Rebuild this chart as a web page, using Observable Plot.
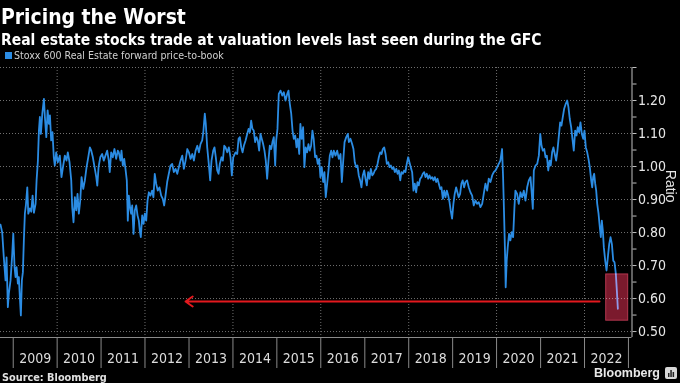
<!DOCTYPE html>
<html><head><meta charset="utf-8">
<script src="https://cdn.jsdelivr.net/npm/d3@7"></script>
<script src="https://cdn.jsdelivr.net/npm/@observablehq/plot@0.6"></script>
<style>
html,body{margin:0;padding:0;background:#000;}
#wrap{width:680px;height:383px;position:relative;overflow:hidden;background:#000;}
.t{position:absolute;white-space:nowrap;line-height:1;left:0;top:0;}
#title{font:bold 21px "DejaVu Sans Condensed","DejaVu Sans",sans-serif;color:#fff;}
#sub{font:bold 15px "DejaVu Sans Condensed","DejaVu Sans",sans-serif;color:#fff;}
#leg{font:11px "Liberation Sans Narrow","DejaVu Sans Condensed",sans-serif;color:#d0d0d0;}
#sw{position:absolute;left:5px;top:52px;width:7px;height:7px;background:#2b8ce3;}
#src{font:bold 11px "DejaVu Sans Condensed","DejaVu Sans",sans-serif;color:#e0e0e0;}
#brand{font:bold 13px "Liberation Sans","DejaVu Sans",sans-serif;color:#e8e8e8;}
#chart{position:absolute;left:0;top:62px;}
#chart svg{display:block;}
#icon{position:absolute;left:665px;top:367px;}
</style></head>
<body>
<div id="wrap">
  <div class="t" id="title"></div>
  <div class="t" id="sub"></div>
  <div id="sw"></div>
  <div class="t" id="leg"></div>
  <div id="chart"></div>
  <div class="t" id="src"></div>
  <div class="t" id="brand"></div>
  <svg id="icon" width="12" height="12" viewBox="0 0 12 12"><rect x="0" y="0" width="12" height="12" rx="2" fill="#d8d8d8"/><rect x="3" y="6" width="1.5" height="4" fill="#222"/><rect x="5.3" y="3" width="1.5" height="7" fill="#222"/><rect x="7.6" y="5" width="1.5" height="5" fill="#222"/></svg>
</div>
<script>
// ---- text ----
const titleText = "Pricing the Worst";
const subtitleText = "Real estate stocks trade at valuation levels last seen during the GFC";
const seriesName = "Stoxx 600 Real Estate forward price-to-book";
const sourceText = "Source: Bloomberg";
const brandText = "Bloomberg";
const yAxisLabel = "Ratio";

// ---- axes ----
const yearLabels = ["2009","2010","2011","2012","2013","2014","2015","2016","2017","2018","2019","2020","2021","2022"];
const yearBoundaries = [2009,2010,2011,2012,2013,2014,2015,2016,2017,2018,2019,2020,2021,2022,2023];
const gridYears = [2010,2012,2014,2016,2018,2020,2022];
const yGridLevels = [0.5,0.6,0.7,0.8,0.9,1.0,1.1,1.2,1.3];
const yMinorTicks = [0.5,0.55,0.6,0.65,0.7,0.75,0.8,0.85,0.9,0.95,1.0,1.05,1.1,1.15,1.2,1.25,1.3];
const yTickValues = [0.5,0.6,0.7,0.8,0.9,1.0,1.1,1.2];
const yTickLabels = ["0.50","0.60","0.70","0.80","0.90","1.00","1.10","1.20"];
const xDomain = [2008.711, 2023.081];
const yDomain = [0.482, 1.30];

// ---- annotations ----
const boxFrom = 2022.494, boxTo = 2022.994, boxLow = 0.533, boxHigh = 0.673;
const arrowFrom = 2022.341, arrowTo = 2012.921, arrowLevel = 0.591;

// ---- series: dates (decimal years) and forward price-to-book ----
const dates = [
2008.711,2008.750,2008.786,2008.825,2008.848,2008.878,2008.900,2008.939,2008.978,2009.001,
2009.030,2009.053,2009.076,2009.106,2009.128,2009.151,2009.174,2009.197,2009.220,2009.242,
2009.265,2009.288,2009.320,2009.343,2009.379,2009.411,2009.441,2009.471,2009.509,2009.532,
2009.562,2009.585,2009.607,2009.630,2009.662,2009.699,2009.721,2009.753,2009.783,2009.813,
2009.836,
2009.864,2009.894,2009.924,2009.947,2009.978,2010.015,2010.061,2010.099,2010.138,2010.175,
2010.213,2010.243,2010.282,2010.321,2010.343,2010.373,2010.403,2010.435,2010.464,2010.494,
2010.526,2010.556,2010.594,2010.631,2010.670,2010.708,2010.745,2010.777,2010.813,2010.852,
2010.891,2010.914,2010.943,2010.982,
2011.025,2011.061,2011.100,2011.139,2011.175,2011.198,2011.230,2011.267,2011.305,2011.344,
2011.381,2011.403,2011.442,2011.465,2011.495,2011.527,2011.556,2011.586,2011.609,2011.632,
2011.664,2011.686,2011.709,2011.739,2011.768,2011.800,2011.830,2011.860,2011.882,2011.905,
2011.937,2011.967,2011.996,2012.028,2012.058,2012.088,
2012.124,2012.162,2012.192,2012.222,2012.254,2012.290,2012.329,2012.368,2012.404,2012.436,
2012.466,2012.504,2012.541,2012.580,2012.618,2012.655,2012.694,2012.733,2012.769,2012.808,
2012.847,2012.883,2012.922,2012.961,2012.997,2013.036,2013.075,2013.111,2013.150,2013.189,
2013.225,
2013.261,2013.300,2013.329,2013.359,2013.382,2013.414,2013.450,2013.482,2013.512,2013.551,
2013.580,2013.610,2013.642,2013.672,2013.701,2013.740,2013.770,2013.802,2013.831,2013.870,
2013.907,2013.945,2013.975,2014.007,2014.059,2014.098,2014.128,2014.158,2014.189,2014.219,
2014.249,2014.288,2014.326,2014.356,2014.386,
2014.415,2014.444,2014.474,2014.506,2014.535,2014.565,2014.597,2014.627,2014.656,2014.688,
2014.718,2014.748,2014.779,2014.809,2014.839,2014.871,2014.900,2014.930,2014.962,2014.985,
2015.014,2015.044,2015.083,2015.122,2015.158,2015.197,2015.236,2015.265,2015.295,2015.327,
2015.357,2015.386,2015.418,2015.448,2015.477,2015.509,
2015.536,2015.566,2015.598,2015.627,2015.657,2015.689,2015.719,2015.748,2015.780,2015.810,
2015.839,2015.871,2015.901,2015.931,2015.963,2015.992,2016.022,2016.054,2016.083,2016.113,
2016.145,2016.175,2016.205,2016.236,2016.266,2016.296,2016.334,2016.373,2016.410,2016.448,
2016.478,2016.510,2016.540,2016.578,2016.615,2016.638,
2016.674,2016.712,2016.742,2016.772,2016.804,2016.833,2016.863,2016.895,2016.924,2016.954,
2016.986,2017.016,2017.045,2017.077,2017.107,2017.137,2017.169,2017.198,2017.228,2017.260,
2017.290,2017.319,2017.351,2017.381,2017.410,2017.442,2017.472,2017.502,2017.534,2017.563,
2017.593,2017.625,2017.654,2017.684,2017.716,2017.746,2017.775,2017.807,
2017.834,2017.864,2017.895,2017.925,2017.955,2017.987,2018.016,2018.046,2018.078,2018.108,
2018.137,2018.169,2018.199,2018.229,2018.260,2018.290,2018.320,2018.352,2018.381,2018.411,
2018.443,2018.473,2018.502,2018.534,2018.564,2018.594,2018.625,2018.655,2018.685,2018.717,
2018.746,2018.776,2018.808,2018.837,2018.867,2018.899,2018.929,
2018.955,2018.987,2019.017,2019.047,2019.079,2019.108,2019.138,2019.170,2019.200,2019.229,
2019.261,2019.291,2019.329,2019.366,2019.405,2019.444,2019.480,2019.519,2019.558,2019.594,
2019.633,2019.672,2019.708,2019.747,2019.786,2019.822,2019.861,2019.900,2019.936,2019.975,
2020.014,2020.050,
2020.086,2020.125,2020.148,2020.170,2020.193,2020.207,2020.230,2020.253,2020.284,2020.314,
2020.344,2020.376,2020.406,2020.428,2020.467,2020.503,2020.542,2020.581,2020.618,2020.656,
2020.695,2020.732,2020.770,2020.800,2020.823,2020.846,2020.884,2020.923,2020.960,2020.992,
2021.021,2021.051,2021.083,2021.113,2021.142,2021.174,2021.204,
2021.231,2021.262,2021.292,2021.322,2021.354,2021.383,2021.413,2021.445,2021.475,2021.504,
2021.536,2021.573,2021.605,2021.634,2021.664,2021.696,2021.725,2021.755,2021.787,2021.817,
2021.846,2021.878,2021.908,2021.938,2021.970,2021.999,2022.029,2022.061,2022.090,2022.120,
2022.152,2022.175,2022.197,2022.220,2022.243,2022.266,2022.289,2022.319,2022.348,2022.371,
2022.394,2022.417,2022.440,2022.471,2022.501,2022.531,2022.562,2022.592,2022.623,2022.654,
2022.683,2022.713,2022.736,2022.759
];
const ratio = [
0.824,0.800,0.725,0.655,0.725,0.574,0.615,0.655,0.736,0.797,
0.695,0.665,0.695,0.645,0.665,0.604,0.549,0.655,0.680,0.776,
0.857,0.882,0.937,0.857,0.873,0.863,0.912,0.860,0.887,0.958,
1.018,1.109,1.150,1.099,1.160,1.205,1.150,1.089,1.170,1.129,
1.155,
1.079,1.104,1.028,1.003,1.043,1.013,1.033,0.968,1.003,1.033,
1.018,1.043,1.013,0.958,0.877,0.831,0.907,0.867,0.917,0.857,
0.897,0.968,0.932,0.958,0.998,1.028,1.058,1.048,1.028,0.998,
0.968,0.942,0.998,1.028,
1.038,1.018,1.033,1.048,1.018,0.983,1.043,1.028,1.053,1.023,
1.048,1.043,1.018,1.048,1.003,1.023,0.993,0.958,0.836,0.912,
0.872,0.857,0.882,0.796,0.867,0.882,0.852,0.836,0.806,0.786,
0.852,0.826,0.857,0.836,0.897,0.922,
0.912,0.927,0.907,0.978,0.948,0.927,0.937,0.912,0.902,0.882,
0.912,0.953,0.978,1.003,1.008,0.983,0.993,0.978,0.998,1.018,
1.033,0.993,1.018,1.053,1.043,1.023,1.038,1.018,1.048,1.063,
1.043,
1.068,1.079,1.109,1.160,1.129,1.058,1.008,0.958,1.018,1.048,
1.058,1.028,0.988,0.978,1.008,1.028,1.018,1.063,1.058,1.043,
1.058,1.028,0.973,1.028,1.043,1.038,1.084,1.089,1.058,1.043,
1.063,1.079,1.099,1.114,1.104,
1.139,1.114,1.109,1.074,1.089,1.079,1.048,1.099,1.084,1.068,
1.048,1.018,0.963,1.018,1.063,1.053,1.074,1.089,1.003,1.079,
1.114,1.220,1.230,1.215,1.225,1.200,1.220,1.230,1.190,1.160,
1.109,1.084,1.094,1.058,1.084,1.038,
1.129,1.084,1.119,0.998,1.058,1.043,1.068,1.048,1.063,1.109,
1.084,1.028,1.033,1.008,1.023,0.968,0.998,0.953,0.983,0.907,
0.948,0.988,1.033,1.048,1.028,1.048,1.033,1.048,1.023,1.038,
0.953,1.018,1.074,1.089,1.099,1.074,
1.084,1.068,1.053,1.013,0.998,1.003,0.973,0.958,0.937,0.973,
0.988,0.963,0.943,0.983,0.963,0.993,0.973,0.978,0.988,0.993,
1.008,1.028,1.043,1.038,1.053,1.058,1.038,1.008,1.013,0.998,
1.003,0.993,0.998,0.983,0.993,0.978,0.988,0.958,
0.983,0.978,0.988,0.983,1.008,1.028,1.013,0.998,0.983,0.927,
0.948,0.922,0.953,0.943,0.963,0.968,0.978,0.983,0.968,0.978,
0.963,0.973,0.963,0.968,0.958,0.968,0.953,0.963,0.948,0.932,
0.937,0.902,0.927,0.907,0.927,0.912,0.892,
0.867,0.842,0.887,0.917,0.937,0.922,0.907,0.917,0.948,0.958,
0.937,0.953,0.958,0.937,0.922,0.912,0.882,0.897,0.887,0.892,
0.877,0.887,0.917,0.948,0.927,0.963,0.953,0.973,0.983,0.988,
0.998,1.008,
1.018,1.053,0.968,0.857,0.735,0.634,0.715,0.755,0.796,0.776,
0.801,0.786,0.877,0.927,0.917,0.887,0.922,0.907,0.927,0.897,
0.937,0.958,0.968,0.917,0.872,0.988,1.003,1.008,1.033,1.099,
1.063,1.048,1.053,1.028,1.033,0.988,1.018,
1.003,1.043,1.058,1.038,1.018,1.048,1.089,1.134,1.124,1.149,
1.175,1.190,1.200,1.180,1.144,1.119,1.084,1.048,1.109,1.094,
1.119,1.104,1.134,1.099,1.084,1.109,1.058,1.043,1.023,0.998,
0.958,0.937,0.968,0.978,0.948,0.927,0.887,0.857,0.816,0.786,
0.836,0.806,0.755,0.715,0.685,0.725,0.765,0.786,0.765,0.715,
0.710,0.675,0.624,0.569
];
if (dates.length !== ratio.length) throw new Error("length mismatch " + dates.length + " vs " + ratio.length);

// decimal year -> Date (unit conversion only)
const toDate = t => { const y = Math.floor(t); const a = Date.UTC(y,0,1), b = Date.UTC(y+1,0,1); return new Date(a + (t - y) * (b - a)); };
const series = dates.map((t, i) => ({date: toDate(t), value: ratio[i]}));

const AXISFONT = '"Liberation Sans Narrow","DejaVu Sans Condensed",sans-serif';
const gridStyle = {stroke: "#707070", strokeOpacity: 1, strokeWidth: 1, strokeDasharray: "1,2"};

const chart = Plot.plot({
  width: 680, height: 308,
  marginTop: 5, marginBottom: 33, marginLeft: 0, marginRight: 48.5,
  style: {background: "#000", color: "#e0e0e0", fontFamily: AXISFONT, fontSize: "14px"},
  x: {type: "utc", domain: xDomain.map(toDate), label: null},
  y: {domain: yDomain, label: null},
  marks: [
    Plot.ruleY(yGridLevels, gridStyle),
    Plot.ruleX(gridYears.map(toDate), gridStyle),
    Plot.line(series, {x: "date", y: "value", stroke: "#2b8ce3", strokeWidth: 1.8, strokeLinejoin: "round"}),
    Plot.arrow([{x1: toDate(arrowFrom), x2: toDate(arrowTo), y: arrowLevel}],
      {x1: "x1", x2: "x2", y1: "y", y2: "y", stroke: "#e3191e", strokeWidth: 2, headLength: 6.5, headAngle: 70, bend: 0}),
    Plot.rect([{x1: toDate(boxFrom), x2: toDate(boxTo), y1: boxLow, y2: boxHigh}],
      {x1: "x1", x2: "x2", y1: "y1", y2: "y2", fill: "#7b1a2d", stroke: "#b2364e", strokeWidth: 1, mixBlendMode: "screen"}),
    Plot.ruleY([yDomain[0]], {stroke: "#8a8a8a"}),
    Plot.ruleX([toDate(xDomain[1])], {stroke: "#c0c0c0"}),
    Plot.axisY({ticks: yMinorTicks, anchor: "right", tickSize: 4, tickFormat: () => "", stroke: "#c0c0c0", label: null}),
    Plot.axisY({ticks: yTickValues, anchor: "right", tickSize: 0, tickPadding: 6, tickFormat: d => yTickLabels[yTickValues.indexOf(d)], fill: "#e6e6e6", label: null}),
    Plot.axisX({ticks: yearBoundaries.map(toDate), anchor: "bottom", tickSize: 31, tickFormat: () => "", stroke: "#8a8a8a", label: null}),
    Plot.text(yearLabels, {x: d => toDate(+d + 0.5), text: d => d, frameAnchor: "bottom", dy: 25, fill: "#dcdcdc"}),
    Plot.text([yAxisLabel], {text: d => d, frameAnchor: "right", dx: 38, rotate: 90, fill: "#e6e6e6", fontFamily: '"Liberation Sans",sans-serif', fontSize: 14})
  ]
});
document.getElementById("chart").appendChild(chart);

// header/footer text, fitted to the reference widths and baselines
function place(id, text, left, targetW, baseline) {
  const el = document.getElementById(id);
  el.textContent = text;
  el.style.left = left + "px"; el.style.top = "0px";
  const w0 = el.getBoundingClientRect().width;
  const fs = parseFloat(getComputedStyle(el).fontSize) * targetW / w0;
  el.style.fontSize = fs + "px";
  const mk = document.createElement("i");
  mk.style.cssText = "display:inline-block;width:0;height:0;vertical-align:baseline";
  el.appendChild(mk);
  const b = mk.getBoundingClientRect().top - document.getElementById("wrap").getBoundingClientRect().top;
  el.style.top = (baseline - b) + "px";
}
place("title", titleText, 1, 185, 24);
place("sub", subtitleText, 1, 541, 45);
place("leg", seriesName, 14, 210, 59);
place("src", sourceText, 2, 105, 381);
place("brand", brandText, 594, 66, 377);
</script>
</body></html>
